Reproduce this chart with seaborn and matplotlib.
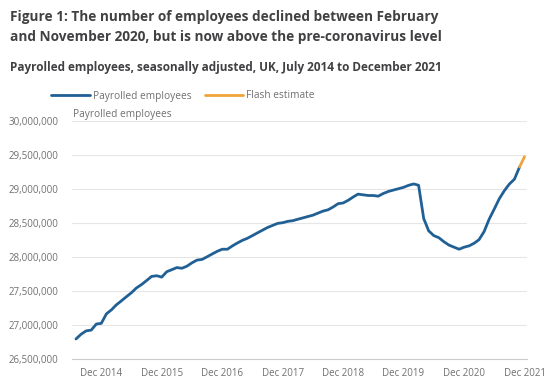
import matplotlib
matplotlib.use("Agg")
import matplotlib.pyplot as plt
from matplotlib.lines import Line2D
import seaborn as sns
import pandas as pd

# Payrolled employees (millions), monthly, Jul 2014 - Dec 2021 (last month = flash estimate)
thang = pd.date_range("2014-07-01", periods=90, freq="MS")
nhan_vien = [
    26.79, 26.86, 26.91, 26.92, 27.01, 27.02,                       # 2014
    27.16, 27.22, 27.29, 27.35, 27.41, 27.47, 27.54, 27.59, 27.65, 27.71, 27.72, 27.70,  # 2015
    27.78, 27.81, 27.84, 27.83, 27.86, 27.91, 27.95, 27.96, 28.00, 28.04, 28.08, 28.11,  # 2016
    28.11, 28.16, 28.20, 28.24, 28.27, 28.31, 28.35, 28.39, 28.43, 28.46, 28.49, 28.50,  # 2017
    28.52, 28.53, 28.55, 28.57, 28.59, 28.61, 28.64, 28.67, 28.69, 28.73, 28.78, 28.79,  # 2018
    28.83, 28.88, 28.92, 28.91, 28.90, 28.90, 28.89, 28.93, 28.96, 28.98, 29.00, 29.02,  # 2019
    29.05, 29.07, 29.05, 28.56, 28.38, 28.31, 28.28, 28.22, 28.17, 28.14, 28.11, 28.14,  # 2020
    28.16, 28.20, 28.25, 28.37, 28.55, 28.70, 28.85, 28.97, 29.07, 29.14, 29.32, 29.47,  # 2021
]
y_ticks = [26.5e6, 27e6, 27.5e6, 28e6, 28.5e6, 29e6, 29.5e6, 30e6]
x_tick_nam = [2014, 2015, 2016, 2017, 2018, 2019, 2020, 2021]

df = pd.DataFrame({"thang": thang, "gia_tri": [v * 1e6 for v in nhan_vien]})
df_chinh = df.iloc[:-1]
df_flash = df.iloc[-2:]

mau_xanh = "#206095"
mau_cam = "#F0A33A"
mau_chu = "#707071"

sns.set_style("white")
plt.rcParams["font.family"] = ["Open Sans", "DejaVu Sans"]

fig = plt.figure(figsize=(5.5, 3.9), dpi=100)
ax = fig.add_axes([72 / 550, 1 - 358.7 / 390, (527 - 72) / 550, (358.7 - 120.7) / 390])

sns.lineplot(data=df_chinh, x="thang", y="gia_tri", color=mau_xanh, linewidth=2.0, ax=ax)
sns.lineplot(data=df_flash, x="thang", y="gia_tri", color=mau_cam, linewidth=2.0, ax=ax)

ax.set_ylim(26.5e6, 30e6)
ax.set_xlim(pd.Timestamp("2014-06-07"), pd.Timestamp("2021-12-16"))
ax.set_yticks(y_ticks)
ax.set_yticklabels([f"{int(v):,}" for v in y_ticks])
ax.set_xticks([pd.Timestamp(f"{n}-12-01") for n in x_tick_nam])
ax.set_xticklabels([f"Dec {n}" for n in x_tick_nam])
ax.tick_params(axis="y", length=0, labelsize=7, labelcolor=mau_chu, pad=10)
ax.tick_params(axis="x", length=5, width=0.6, color="#cccccc", labelsize=7,
               labelcolor=mau_chu, pad=2, direction="out")
ax.grid(axis="y", color="#e6e6e6", linewidth=0.8)
ax.set_xlabel("")
ax.set_ylabel("")
for s in ["top", "right", "left"]:
    ax.spines[s].set_visible(False)
ax.spines["bottom"].set_color("#cccccc")
ax.spines["bottom"].set_linewidth(0.8)

ax.text(0.003, 1.005, "Payrolled employees", transform=ax.transAxes, fontsize=7.3,
        color=mau_chu, va="bottom", ha="left")

# Tiêu đề
fig.text(10 / 550, 1 - 20.5 / 390, "Figure 1: The number of employees declined between February",
         fontsize=9.8, fontweight="bold", color="#414042", ha="left", va="baseline")
fig.text(10 / 550, 1 - 40.5 / 390, "and November 2020, but is now above the pre-coronavirus level",
         fontsize=9.8, fontweight="bold", color="#414042", ha="left", va="baseline")
fig.text(10 / 550, 1 - 71.5 / 390, "Payrolled employees, seasonally adjusted, UK, July 2014 to December 2021",
         fontsize=8.5, fontweight="bold", color="#414042", ha="left", va="baseline")

# Chú thích
fig.legend(handles=[Line2D([], [], color=mau_xanh, lw=2, label="Payrolled employees"),
                    Line2D([], [], color=mau_cam, lw=2, label="Flash estimate")],
           loc="center left", bbox_to_anchor=(42 / 550, 1 - 96 / 390), ncol=2, frameon=False,
           fontsize=7.3, labelcolor=mau_chu, handlelength=3.8, handletextpad=0.3,
           columnspacing=1.3)

fig.savefig("out.png", dpi=100, facecolor="white")
